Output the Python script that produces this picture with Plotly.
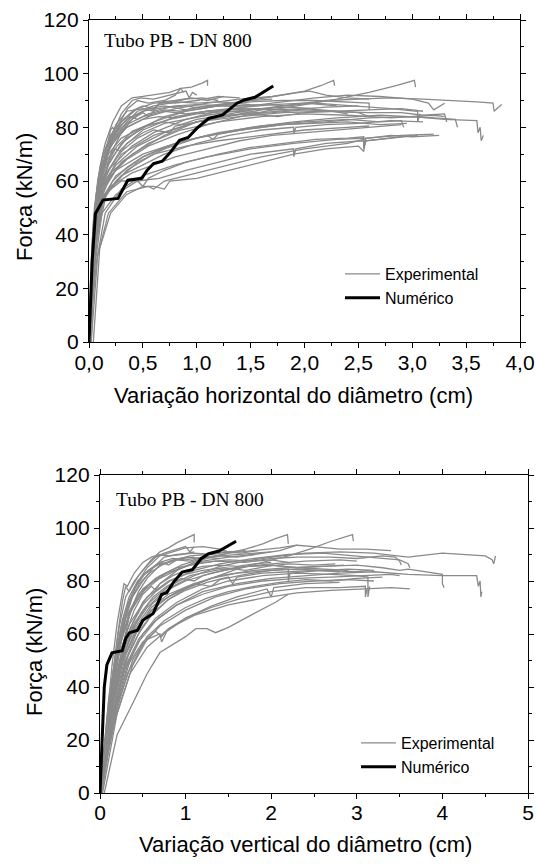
import plotly.graph_objects as go

# ---------------- DATA ----------------
# Horizontal diameter variation (top chart) : (cm, kN/m)
num_h_x = [0, 0.03, 0.06, 0.13, 0.27, 0.32, 0.36, 0.49, 0.54, 0.60, 0.68, 0.76, 0.84, 0.92, 1.00, 1.11, 1.24, 1.37, 1.44, 1.54, 1.71]
num_h_y = [0, 30.5, 47.9, 52.9, 53.5, 57.2, 60.3, 61.0, 64.0, 66.5, 67.4, 70.9, 75.2, 76.2, 79.6, 83.3, 84.6, 88.9, 90.2, 91.2, 95.4]

exp_h_upper = [
    [(0, 0), (.03, 30), (.06, 52), (.1, 65), (.15, 74), (.22, 82), (.3, 88), (.4, 91), (.5, 91.5), (.6, 92), (.75, 93), (.85, 94.5), (.95, 95), (1.05, 96.5), (1.1, 97.5), (1.1, 95.5)],
    [(0, 0), (.04, 28), (.08, 50), (.14, 66), (.2, 76), (.3, 85), (.4, 90), (.48, 91), (.6, 90.5), (.75, 92), (.9, 93.5), (.93, 91), (.96, 93), (1.0, 92)],
    [(0, 0), (.03, 25), (.07, 50), (.12, 62), (.18, 72), (.26, 80), (.36, 87), (.45, 90), (.55, 89), (.7, 90), (.8, 92), (.85, 94.5), (.88, 93)],
    [(0, 0), (.04, 32), (.09, 55), (.15, 70), (.2, 79), (.22, 80), (.26, 77), (.35, 82), (.45, 86), (.6, 88), (.75, 89), (.9, 90.5), (1.05, 91), (1.2, 90)],
    [(0, 0), (.05, 35), (.1, 58), (.16, 72), (.25, 81), (.35, 86), (.5, 87), (.6, 86), (.65, 89), (.8, 89), (1.0, 90), (1.2, 91.5), (1.4, 91)],
    [(0, 0), (.03, 22), (.08, 45), (.13, 60), (.2, 70), (.3, 78), (.42, 84), (.55, 87), (.7, 88), (.9, 86.5), (1.1, 88), (1.3, 89), (1.5, 90), (1.7, 90.5)],
    [(0, 0), (.04, 40), (.1, 62), (.2, 75), (.3, 82), (.45, 87), (.6, 89), (.8, 89.5), (1.0, 89), (1.2, 89.5), (1.4, 89)],
    [(0, 0), (.04, 36), (.09, 58), (.16, 70), (.25, 78), (.35, 83), (.5, 86), (.65, 87), (.8, 88), (1.0, 88.5), (1.3, 88), (1.6, 88.5), (1.9, 88)],
    [(0, 0), (.05, 44), (.12, 64), (.22, 75), (.35, 81), (.5, 84), (.7, 86), (.9, 85), (1.1, 86), (1.3, 87)],
    [(0, 0), (.03, 38), (.07, 56), (.12, 66), (.2, 74), (.28, 79), (.4, 83), (.5, 85.5), (.55, 84), (.6, 86), (.75, 87.5), (.9, 88), (1.05, 87), (1.2, 88.5), (1.35, 89), (1.5, 88.5)],
    [(0, 0), (.02, 30), (.05, 50), (.09, 62), (.14, 70), (.2, 76), (.3, 81), (.38, 84), (.45, 83), (.55, 85), (.7, 86.5), (.85, 86), (1.0, 87.5), (1.2, 88), (1.45, 87.5), (1.7, 88.5), (2.0, 89), (2.3, 88)],
    [(0, 0), (.04, 42), (.08, 60), (.13, 70), (.2, 77), (.25, 80), (.32, 83), (.42, 86.5), (.5, 88), (.6, 87), (.68, 89.5), (.8, 90), (.95, 91), (1.1, 90), (1.25, 91.5)],
    [(0, 0), (.03, 34), (.07, 54), (.12, 64), (.18, 71), (.25, 76), (.35, 80), (.5, 83), (.65, 84), (.8, 83.5), (.95, 85), (1.1, 86), (1.3, 86.5), (1.55, 87), (1.8, 86.5)],
]

exp_h_middle = [
    [(0, 0), (.05, 35), (.1, 55), (.18, 66), (.3, 74), (.5, 80), (.7, 84), (.9, 86), (1.2, 88), (1.5, 90), (1.8, 92), (2.0, 93.5), (2.15, 95.5), (2.27, 97.5), (2.28, 95.5)],
    [(0, 0), (.06, 38), (.12, 54), (.2, 62), (.35, 68), (.55, 73), (.8, 77), (1.1, 81), (1.4, 84), (1.7, 86.5), (2.0, 88.5), (2.3, 90.5), (2.6, 93), (2.85, 95.5), (3.02, 97.5), (3.03, 95)],
    [(0, 0), (.05, 36), (.1, 54), (.2, 63), (.4, 70), (.7, 77), (1.0, 82), (1.3, 85), (1.6, 87), (1.9, 88.5), (2.2, 90), (2.5, 90.5), (2.8, 91), (3.1, 90.5), (3.4, 90), (3.6, 89.5), (3.75, 89), (3.76, 86), (3.8, 87.5), (3.83, 88.5)],
    [(0, 0), (.06, 33), (.12, 52), (.25, 60), (.45, 67), (.7, 72), (1.0, 76), (1.4, 79), (1.8, 81), (2.2, 82), (2.6, 83.5), (3.0, 84), (3.3, 83), (3.6, 82.5), (3.61, 78), (3.63, 80), (3.64, 75), (3.66, 77)],
    [(0, 0), (.05, 40), (.1, 57), (.2, 65), (.4, 73), (.6, 78), (.9, 83), (1.2, 86), (1.5, 88), (1.8, 89.5), (2.1, 91), (2.4, 92), (2.7, 91.5), (3.0, 90.5), (3.15, 89), (3.2, 86.5), (3.3, 89)],
    [(0, 0), (.04, 38), (.1, 56), (.25, 66), (.45, 73), (.7, 78), (1.0, 82), (1.4, 84), (1.8, 85.5), (2.2, 86), (2.6, 85.5), (2.9, 85.5), (3.1, 84.5), (3.3, 85), (3.32, 82)],
    [(0, 0), (.05, 42), (.1, 58), (.2, 68), (.35, 76), (.6, 82), (.9, 86), (1.2, 88), (1.5, 89.5), (1.8, 90), (2.1, 90), (2.4, 89.5), (2.6, 89), (2.6, 86.5)],
    [(0, 0), (.05, 37), (.11, 55), (.25, 64), (.5, 70), (.8, 74), (1.2, 78), (1.6, 80.5), (2.0, 82), (2.4, 83), (2.7, 82), (2.9, 82.5), (2.92, 80)],
    [(0, 0), (.04, 34), (.1, 52), (.25, 62), (.5, 69), (.8, 74), (1.1, 77), (1.5, 80), (1.9, 82), (2.3, 83.5), (2.7, 84.5), (3.0, 84), (3.2, 83.5), (3.4, 83), (3.42, 80)],
    [(0, 0), (.05, 40), (.12, 58), (.3, 70), (.6, 77), (1.0, 82), (1.4, 85), (1.8, 88), (2.1, 89), (2.5, 88), (2.8, 87), (3.05, 86), (3.05, 82), (3.07, 85)],
    [(0, 0), (.07, 40), (.15, 55), (.3, 62), (.5, 66), (.7, 70), (1.0, 74), (1.3, 77), (1.6, 79), (1.9, 80), (1.9, 77.5), (1.92, 80), (2.2, 81), (2.5, 81.5), (2.8, 82.5), (3.1, 82)],
    [(0, 0), (.05, 45), (.12, 60), (.3, 72), (.5, 79), (.8, 84), (1.1, 86), (1.4, 87), (1.7, 86.5), (2.0, 87), (2.3, 86), (2.5, 85.5), (2.6, 84)],
    [(0, 0), (.06, 42), (.14, 58), (.3, 67), (.55, 74), (.85, 79), (1.2, 82), (1.6, 84), (2.0, 85), (2.4, 84.5), (2.8, 83.5), (3.0, 84), (3.2, 84.5), (3.3, 84)],
    [(0, 0), (.04, 45), (.1, 62), (.2, 73), (.35, 80), (.55, 84), (.8, 87), (1.1, 89), (1.4, 90.5), (1.7, 91.5), (1.95, 93), (2.05, 93.5), (2.2, 92), (2.4, 91), (2.6, 90.5)],
    [(0, 0), (.05, 46), (.1, 60), (.18, 70), (.3, 76), (.5, 80), (.75, 83), (1.0, 85), (1.3, 86), (1.6, 85.5), (1.9, 86.5), (2.2, 87.5), (2.5, 88)],
    [(0, 0), (.05, 38), (.1, 55), (.18, 64), (.3, 71), (.45, 76), (.6, 79), (.75, 78), (.8, 80.5), (1.0, 82), (1.2, 83.5), (1.45, 85), (1.7, 85.5), (2.0, 86.5), (2.3, 86), (2.6, 86.5), (2.9, 87), (3.1, 86)],
    [(0, 0), (.04, 40), (.09, 57), (.16, 66), (.26, 73), (.4, 78.5), (.55, 81), (.7, 82), (.85, 81), (1.0, 83), (1.25, 84.5), (1.5, 85), (1.75, 84), (2.0, 85.5), (2.25, 86), (2.4, 85)],
    [(0, 0), (.05, 44), (.1, 60), (.17, 68), (.24, 72), (.3, 71), (.35, 74), (.5, 78), (.7, 81.5), (.9, 83), (1.1, 84.5), (1.35, 86), (1.6, 87), (1.85, 87.5), (2.1, 87)],
]

exp_h_lower = [
    [(0, 0), (.07, 30), (.15, 48), (.3, 57), (.5, 62), (.8, 66), (1.1, 69), (1.5, 72), (1.9, 74), (2.3, 75.5), (2.6, 76), (2.8, 77), (3.0, 76.5), (3.25, 77)],
    [(0, 0), (.06, 30), (.12, 48), (.25, 55), (.45, 60), (.65, 61), (.9, 64), (1.2, 67), (1.5, 70), (1.9, 72), (1.9, 69), (1.92, 72), (2.2, 74), (2.55, 75), (2.55, 72), (2.57, 75), (2.8, 76), (3.05, 77)],
    [(.02, 0), (.08, 32), (.18, 48), (.35, 56), (.55, 58), (.6, 57), (.7, 60), (1.0, 63), (1.3, 66), (1.6, 69), (2.0, 72), (2.4, 74), (2.55, 75.5), (2.55, 72.5), (2.57, 75), (2.8, 76), (3.0, 77)],
    [(.04, 0), (.1, 35), (.2, 48), (.35, 55), (.5, 58), (.6, 58), (.7, 57), (.75, 60), (1.0, 61), (1.3, 64), (1.6, 67), (1.9, 70), (2.2, 72), (2.5, 73), (2.55, 71), (2.56, 74)],
    [(0, 0), (.07, 38), (.16, 55), (.35, 64), (.6, 70), (.9, 73), (1.2, 75), (1.6, 77), (2.0, 79), (2.4, 80), (2.6, 80.5)],
    [(0, 0), (.05, 35), (.1, 50), (.2, 58), (.4, 63), (.6, 66), (.8, 69), (1.1, 72), (1.4, 75), (1.7, 77), (2.0, 78), (2.3, 79), (2.6, 80), (2.9, 81)],
    [(.02, 0), (.06, 40), (.14, 55), (.3, 60), (.45, 60), (.5, 58), (.55, 61), (.7, 64), (.9, 67), (1.2, 70), (1.5, 72.5), (1.8, 74), (2.1, 75.5), (2.4, 76), (2.55, 76.5), (2.55, 73), (2.57, 76), (2.9, 77), (3.2, 77.5)],
    [(0, 0), (.06, 36), (.12, 52), (.22, 60), (.35, 65), (.5, 69), (.7, 72.5), (.9, 75), (1.1, 77), (1.15, 75.5), (1.2, 77.5), (1.5, 79.5), (1.8, 81), (2.1, 81.5), (2.4, 82), (2.7, 81), (2.95, 81.5)],
]

# Vertical diameter variation (bottom chart) : (cm, kN/m)
num_v_x = [0, 0.03, 0.05, 0.08, 0.14, 0.26, 0.30, 0.34, 0.44, 0.50, 0.56, 0.62, 0.72, 0.78, 0.86, 0.96, 1.08, 1.18, 1.27, 1.39, 1.59]
num_v_y = [0, 27.6, 40.0, 48.3, 52.9, 53.7, 58.3, 60.4, 61.4, 65.2, 66.5, 67.7, 74.9, 75.6, 79.6, 83.4, 84.3, 88.4, 90.3, 91.3, 95.0]

exp_v_upper = [
    [(0, 0), (.08, 25), (.15, 45), (.22, 62), (.3, 74), (.4, 80), (.5, 84), (.6, 88), (.7, 91), (.8, 92.5), (.9, 94.5), (1.0, 96), (1.1, 97.5), (1.1, 94.5)],
    [(0, 0), (.07, 22), (.14, 42), (.2, 58), (.26, 72), (.3, 78), (.34, 76), (.45, 82), (.55, 86), (.65, 89), (.75, 90.5), (.9, 92), (1.0, 93), (1.05, 91), (1.1, 93)],
    [(0, 0), (.1, 28), (.18, 48), (.26, 62), (.35, 73), (.45, 80), (.55, 85), (.7, 89.5), (.85, 91), (1.0, 92.5), (1.2, 93), (1.4, 92), (1.5, 91)],
    [(0, 0), (.08, 20), (.16, 40), (.24, 56), (.3, 66), (.38, 74), (.5, 80), (.62, 85), (.75, 89), (.9, 90), (1.1, 90.5), (1.3, 90), (1.5, 91), (1.7, 91.5)],
    [(0, 0), (.1, 25), (.2, 45), (.28, 58), (.35, 68), (.45, 76), (.55, 81), (.7, 86), (.85, 88), (1.0, 89), (1.2, 88.5), (1.4, 89.5), (1.6, 90), (1.8, 90.5), (2.0, 91)],
    [(0, 0), (.09, 24), (.17, 44), (.25, 60), (.32, 70), (.4, 77), (.5, 82), (.65, 86), (.8, 87), (.95, 88.5), (1.1, 89)],
    [(0, 0), (.07, 25), (.14, 48), (.2, 64), (.25, 74), (.28, 79), (.32, 78), (.4, 83), (.5, 87), (.6, 89), (.7, 90), (.8, 89.5), (.95, 90), (1.1, 91)],
    [(0, 0), (.09, 28), (.18, 50), (.26, 65), (.34, 74), (.44, 80), (.56, 84), (.7, 87), (.85, 88.5), (1.0, 88), (1.2, 89), (1.4, 88.5)],
    [(0, 0), (.1, 26), (.2, 46), (.3, 60), (.4, 69), (.5, 75), (.6, 78), (.65, 76.5), (.7, 79), (.85, 82), (1.0, 84), (1.2, 85.5), (1.4, 86), (1.6, 85.5), (1.8, 86.5), (2.0, 87)],
    [(0, 0), (.08, 26), (.16, 47), (.24, 62), (.32, 71), (.42, 78), (.52, 82.5), (.62, 85), (.72, 87), (.8, 86), (.9, 88), (1.05, 89.5), (1.25, 90), (1.45, 91), (1.65, 90.5), (1.85, 91.5)],
    [(0, 0), (.09, 29), (.18, 50), (.27, 64), (.36, 73), (.46, 79), (.58, 83), (.72, 86), (.88, 88), (1.05, 87.5), (1.2, 89), (1.4, 89.5), (1.6, 89), (1.8, 90)],
]

exp_v_middle = [
    [(0, 0), (.12, 28), (.25, 50), (.35, 62), (.5, 72), (.7, 79), (.9, 84), (1.1, 87), (1.3, 89), (1.5, 90.5), (1.7, 92), (1.9, 94), (2.05, 96), (2.19, 97.5), (2.2, 94)],
    [(0, 0), (.15, 30), (.3, 50), (.45, 60), (.6, 67), (.8, 73), (1.0, 77), (1.3, 81), (1.6, 84.5), (1.9, 87), (2.2, 89.5), (2.45, 92), (2.7, 95), (2.95, 97.5), (2.96, 95)],
    [(0, 0), (.12, 30), (.25, 50), (.4, 62), (.6, 71), (.85, 78), (1.1, 82), (1.4, 85.5), (1.7, 87.5), (2.0, 89), (2.4, 90.5), (2.8, 91), (3.2, 90.5), (3.6, 89), (4.0, 90.5), (4.3, 90), (4.5, 89.5), (4.58, 88), (4.6, 86.5), (4.62, 89.5)],
    [(0, 0), (.14, 28), (.28, 46), (.45, 57), (.65, 65), (.9, 71), (1.2, 76), (1.6, 79), (2.0, 81), (2.4, 82), (2.8, 83), (3.2, 83.5), (3.6, 82.5), (4.0, 82), (4.4, 82), (4.42, 78), (4.44, 80), (4.45, 74), (4.46, 76)],
    [(0, 0), (.1, 32), (.22, 52), (.35, 64), (.55, 74), (.8, 80), (1.1, 84), (1.4, 86.5), (1.8, 88.5), (2.2, 90), (2.6, 90.5), (3.0, 89.5), (3.3, 88.5), (3.5, 88), (3.6, 86.5), (3.62, 85)],
    [(0, 0), (.15, 32), (.3, 52), (.45, 63), (.6, 70), (.8, 75), (1.1, 79), (1.4, 82), (1.8, 84), (2.2, 85), (2.6, 85.5), (3.0, 86), (3.3, 85), (3.5, 84), (3.6, 84.5), (4.0, 82.5), (4.0, 79), (4.02, 77.5)],
    [(0, 0), (.13, 30), (.27, 50), (.42, 62), (.6, 69), (.8, 74), (1.05, 78), (1.3, 81), (1.6, 83), (2.0, 84), (2.2, 84.5), (2.2, 80), (2.22, 83), (2.6, 84), (3.0, 83.5), (3.15, 84)],
    [(0, 0), (.11, 32), (.22, 54), (.35, 68), (.5, 76), (.7, 81), (.95, 85), (1.2, 87.5), (1.5, 89), (1.8, 90), (2.1, 91.5), (2.3, 93.5), (2.5, 93), (2.8, 92), (3.1, 92), (3.4, 91.5)],
    [(0, 0), (.14, 28), (.3, 48), (.45, 58), (.65, 66), (.9, 72), (1.2, 77), (1.5, 80), (1.9, 82), (2.3, 83), (2.7, 82.5), (3.0, 82), (3.13, 81.5), (3.13, 74), (3.15, 78)],
    [(0, 0), (.12, 28), (.24, 48), (.38, 62), (.55, 70), (.75, 76), (1.0, 80), (1.3, 83), (1.6, 85), (2.0, 86.5), (2.4, 87.5), (2.8, 88), (3.0, 87.5)],
    [(0, 0), (.1, 35), (.2, 55), (.3, 66), (.45, 75), (.65, 81), (.9, 85), (1.2, 87), (1.5, 88), (1.8, 87.5), (2.0, 88), (2.2, 87)],
    [(0, 0), (.13, 33), (.26, 53), (.4, 64), (.58, 72), (.8, 78), (1.05, 82), (1.35, 84), (1.7, 85.5), (2.0, 86), (2.3, 85), (2.6, 84.5), (2.9, 84)],
    [(0, 0), (.11, 34), (.22, 55), (.34, 68), (.5, 77), (.7, 82), (.95, 86), (1.2, 88.5), (1.5, 90.5), (1.8, 91.5), (2.1, 92.5), (2.3, 93.5)],
    [(0, 0), (.12, 36), (.25, 58), (.38, 70), (.55, 78), (.78, 83), (1.05, 86), (1.35, 87.5), (1.7, 87), (2.0, 88.5), (2.3, 89), (2.7, 89), (3.0, 88.5), (3.3, 89.5), (3.45, 89), (3.5, 87.5), (3.52, 86)],
    [(0, 0), (.12, 28), (.24, 47), (.36, 60), (.48, 68), (.62, 74), (.78, 78), (.95, 81), (1.1, 80), (1.2, 82), (1.45, 84), (1.7, 85.5), (2.0, 86), (2.3, 85), (2.6, 85.5), (2.85, 86)],
    [(0, 0), (.15, 30), (.3, 50), (.42, 60), (.55, 67), (.7, 72), (.9, 76), (1.1, 79), (1.3, 78), (1.4, 80.5), (1.7, 82.5), (2.0, 84), (2.3, 84.5), (2.6, 84), (2.9, 84.5), (3.2, 84)],
    [(0, 0), (.13, 31), (.26, 52), (.38, 64), (.5, 71), (.65, 76), (.82, 80), (1.0, 82.5), (1.2, 84), (1.45, 85), (1.7, 84), (1.95, 85.5), (2.2, 86.5), (2.5, 86), (2.75, 86.5)],
]

exp_v_lower = [
    [(0, 0), (.18, 28), (.35, 45), (.55, 55), (.8, 62), (1.1, 67), (1.5, 71), (1.9, 73.5), (2.3, 75.5), (2.7, 76.5), (3.1, 77), (3.4, 77.5), (3.62, 77)],
    [(.05, 0), (.2, 22), (.4, 35), (.55, 45), (.7, 53), (.85, 56), (1.0, 59), (1.12, 62), (1.25, 62), (1.35, 60.5), (1.5, 62.5), (1.7, 66), (1.9, 69.5), (2.05, 72), (2.2, 75)],
    [(0, 0), (.16, 30), (.32, 48), (.5, 57), (.65, 61), (.72, 59), (.8, 62), (1.0, 66), (1.3, 70), (1.6, 73), (2.0, 76), (2.4, 77.5), (2.8, 77.5), (3.1, 78), (3.1, 74), (3.12, 77)],
    [(.02, 0), (.17, 30), (.35, 50), (.5, 60), (.68, 66), (.9, 71), (1.2, 75), (1.5, 78), (1.9, 80), (2.3, 81), (2.7, 81.5), (3.1, 82), (3.4, 82.5), (3.5, 82)],
    [(.03, 0), (.2, 30), (.38, 48), (.55, 58), (.7, 60), (.72, 57), (.78, 61), (1.0, 66), (1.3, 70.5), (1.6, 74), (1.95, 77), (2.0, 74), (2.03, 77.5), (2.4, 79), (2.8, 79.5)],
    [(0, 0), (.16, 27), (.32, 45), (.5, 56), (.7, 63), (1.0, 69), (1.35, 74), (1.7, 77), (2.1, 79), (2.5, 80), (2.9, 80.5), (3.2, 80)],
    [(0, 0), (.2, 33), (.38, 50), (.55, 59), (.75, 65), (1.0, 70), (1.25, 73.5), (1.5, 76), (1.8, 78), (2.1, 79.5), (2.4, 80.5), (2.7, 80), (3.0, 81), (3.3, 81.5)],
    [(.02, 0), (.17, 32), (.33, 52), (.48, 62), (.62, 68), (.8, 73), (1.0, 76.5), (1.25, 79.5), (1.5, 81.5), (1.55, 79), (1.6, 81.5), (1.9, 83), (2.2, 83.5), (2.5, 84), (2.8, 83.5)],
]

legend_labels = ["Experimental", "Numérico"]
panel_label = "Tubo PB - DN 800"
y_title = "Força (kN/m)"
x_title_h = "Variação horizontal do diâmetro (cm)"
x_title_v = "Variação vertical do diâmetro (cm)"

# ---------------- FIGURE ----------------
GRAY = "#8a8a8a"
SANS = "Liberation Sans, Arial, sans-serif"
SERIF = "Liberation Serif, Times New Roman, serif"

fig = go.Figure()


def add_panel(curves, nx, ny, xa, ya, leg):
    first = True
    for c in curves:
        xs = [p[0] for p in c]
        ys = [p[1] for p in c]
        fig.add_trace(go.Scatter(
            x=xs, y=ys, mode="lines", xaxis=xa, yaxis=ya,
            line=dict(color=GRAY, width=1.3),
            name=legend_labels[0], showlegend=first, legend=leg,
            hoverinfo="skip"))
        first = False
    fig.add_trace(go.Scatter(
        x=nx, y=ny, mode="lines", xaxis=xa, yaxis=ya,
        line=dict(color="black", width=3),
        name=legend_labels[1], showlegend=True, legend=leg))


add_panel(exp_h_upper + exp_h_middle + exp_h_lower, num_h_x, num_h_y, "x", "y", "legend")
add_panel(exp_v_upper + exp_v_middle + exp_v_lower, num_v_x, num_v_y, "x2", "y2", "legend2")

W, H = 537, 866


def px_x(p):
    return p / W


def px_y(p):
    return 1 - p / H


def axis_common(size, standoff):
    return dict(
        showline=True, linecolor="black", linewidth=1.3, mirror="ticks",
        ticks="outside", ticklen=5, tickwidth=1, tickcolor="black",
        showgrid=False, zeroline=False, automargin=False,
        ticklabelstandoff=standoff,
        tickfont=dict(family=SANS, size=size, color="black"),
    )


fig.update_layout(
    width=W, height=H,
    margin=dict(l=0, r=0, t=0, b=0),
    paper_bgcolor="white", plot_bgcolor="white",
    separators=",.",
    xaxis=dict(domain=[px_x(89), px_x(520)], anchor="y", range=[0, 4], tick0=0, dtick=0.5,
               tickformat=".1f",
               minor=dict(dtick=0.25, ticks="outside", ticklen=3, tickcolor="black"),
               **axis_common(21, -3)),
    yaxis=dict(domain=[px_y(342), px_y(20)], anchor="x", range=[0, 120], tick0=0, dtick=20,
               minor=dict(dtick=10, ticks="outside", ticklen=3, tickcolor="black"),
               **axis_common(21, 0)),
    xaxis2=dict(domain=[px_x(100), px_x(528)], anchor="y2", range=[0, 5], tick0=0, dtick=1,
                minor=dict(dtick=0.5, ticks="outside", ticklen=3, tickcolor="black"),
                **axis_common(21, -4)),
    yaxis2=dict(domain=[px_y(793), px_y(475)], anchor="x2", range=[0, 120], tick0=0, dtick=20,
                minor=dict(dtick=10, ticks="outside", ticklen=3, tickcolor="black"),
                **axis_common(21, 0)),
    legend=dict(x=px_x(340), y=px_y(257), xanchor="left", yanchor="top",
                font=dict(family=SANS, size=16, color="black"),
                bgcolor="rgba(0,0,0,0)", tracegroupgap=0, itemwidth=35),
    legend2=dict(x=px_x(356), y=px_y(726), xanchor="left", yanchor="top",
                 font=dict(family=SANS, size=16, color="black"),
                 bgcolor="rgba(0,0,0,0)", tracegroupgap=0, itemwidth=35),
    annotations=[
        dict(text=panel_label, xref="paper", yref="paper", x=px_x(102), y=px_y(41),
             xanchor="left", yanchor="middle", showarrow=False,
             font=dict(family=SERIF, size=19.5, color="black")),
        dict(text=panel_label, xref="paper", yref="paper", x=px_x(114), y=px_y(499),
             xanchor="left", yanchor="middle", showarrow=False,
             font=dict(family=SERIF, size=19.5, color="black")),
        dict(text=y_title, xref="paper", yref="paper", x=px_x(24), y=px_y(197),
             xanchor="center", yanchor="middle", textangle=-90, showarrow=False,
             font=dict(family=SANS, size=22, color="black")),
        dict(text=y_title, xref="paper", yref="paper", x=px_x(34), y=px_y(652),
             xanchor="center", yanchor="middle", textangle=-90, showarrow=False,
             font=dict(family=SANS, size=22, color="black")),
        dict(text=x_title_h, xref="paper", yref="paper", x=px_x(293), y=px_y(395),
             xanchor="center", yanchor="middle", showarrow=False,
             font=dict(family=SANS, size=22, color="black")),
        dict(text=x_title_v, xref="paper", yref="paper", x=px_x(305), y=px_y(844),
             xanchor="center", yanchor="middle", showarrow=False,
             font=dict(family=SANS, size=22, color="black")),
    ],
)

fig.write_html("out.html", config={"displayModeBar": False},
               post_script="document.body.style.margin='0';")
